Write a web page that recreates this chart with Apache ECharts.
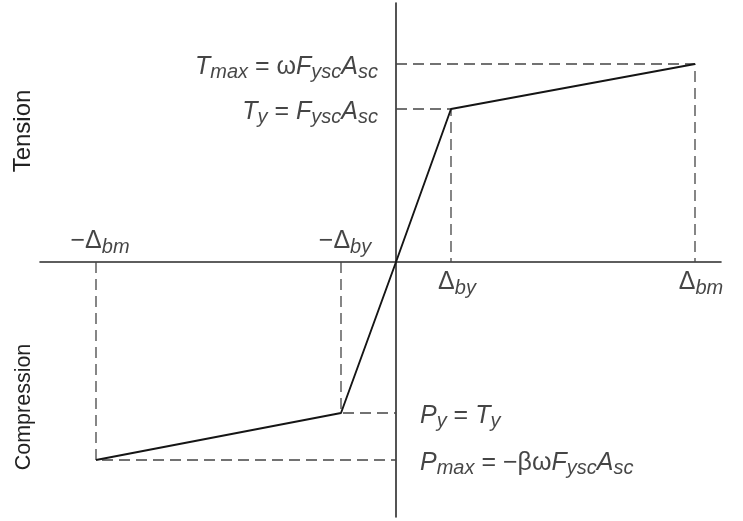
<!DOCTYPE html>
<html>
<head>
<meta charset="utf-8">
<script src="https://cdn.jsdelivr.net/npm/echarts@6/dist/echarts.min.js"></script>
<style>
  html, body { margin: 0; padding: 0; background: #fff; }
  #chart { width: 743px; height: 521px; }
</style>
</head>
<body>
<div id="chart"></div>
<script>
// Brace force–deformation backbone: deformation (x) vs axial force (y)
const deformation = [-300, -55, 0, 55, 299];     // −Δbm, −Δby, 0, Δby, Δbm
const axialForce  = [-198, -151, 0, 153, 198];   // Pmax, Py, 0, Ty, Tmax

// Key levels
const Tmax = 198, Ty = 153, Py = -151, Pmax = -198;
const dBm = 299, dBy = 55, dByNeg = -55, dBmNeg = -300;

// Annotation texts (rich-text markup)
const forceLabelsLeft = [
  { y: Tmax, text: '{i|T}{s|max}{n| = ω}{i|F}{s|ysc}{i|A}{s|sc}' },
  { y: Ty,   text: '{i|T}{s|y}{n| = }{i|F}{s|ysc}{i|A}{s|sc}' }
];
const forceLabelsRight = [
  { y: Py,   text: '{i|P}{s|y}{n| = }{i|T}{s|y}' },
  { y: Pmax, text: '{i|P}{s|max}{n| = −βω}{i|F}{s|ysc}{i|A}{s|sc}' }
];
const deformLabelsAbove = [
  { x: dBmNeg, text: '{n|−Δ}{s|bm}' },
  { x: dByNeg, text: '{n|−Δ}{s|by}' }
];
const deformLabelsBelow = [
  { x: dBy, text: '{n|Δ}{s|by}' },
  { x: dBm, text: '{n|Δ}{s|bm}' }
];
const sideLabels = ['Tension', 'Compression'];

const FONT = '"Liberation Sans", Arial, Helvetica, sans-serif';
const INK = '#161616';
const rich = {
  i: { fontFamily: FONT, fontSize: 25, fontStyle: 'italic', color: INK },
  n: { fontFamily: FONT, fontSize: 25, color: INK },
  s: { fontFamily: FONT, fontSize: 20, fontStyle: 'italic', color: INK, padding: [11, 0, 0, 0] }
};

const dashStyle = { color: '#444', width: 1.3, type: [11, 6] };

function dashed(points) {
  return {
    type: 'line', data: points, symbol: 'none', silent: true,
    lineStyle: dashStyle, z: 1
  };
}

function labelSeries(data, position, distance, offset) {
  return {
    type: 'scatter', symbolSize: 0, silent: true,
    data: data.map(d => ({ value: d.value, label: { formatter: d.text } })),
    label: { show: true, position, distance, offset, rich }
  };
}

const chart = echarts.init(document.getElementById('chart'), null, { renderer: 'canvas' });

chart.setOption({
  animation: false,
  backgroundColor: '#ffffff',
  grid: { left: 40, right: 22, top: 3, bottom: 4 },
  xAxis: {
    type: 'value', min: -356, max: 325,
    axisLine: { show: true, onZero: true, lineStyle: { color: '#2a2a2a', width: 1.6 } },
    axisTick: { show: false }, axisLabel: { show: false }, splitLine: { show: false }
  },
  yAxis: {
    type: 'value', min: -255, max: 259,
    axisLine: { show: true, onZero: true, lineStyle: { color: '#2a2a2a', width: 1.6 } },
    axisTick: { show: false }, axisLabel: { show: false }, splitLine: { show: false }
  },
  series: [
    // reference lines from the key points to the axes
    dashed([[0, Tmax], [dBm, Tmax], [dBm, 0]]),
    dashed([[0, Ty], [dBy, Ty], [dBy, 0]]),
    dashed([[dByNeg, 0], [dByNeg, Py], [0, Py]]),
    dashed([[dBmNeg, 0], [dBmNeg, Pmax], [0, Pmax]]),
    // backbone curve
    {
      type: 'line', symbol: 'none', z: 3,
      data: deformation.map((x, k) => [x, axialForce[k]]),
      lineStyle: { color: '#151515', width: 1.9 }
    },
    labelSeries(forceLabelsLeft.map(d => ({ value: [0, d.y], text: d.text })), 'left', 18, [0, 3]),
    labelSeries(forceLabelsRight.map(d => ({ value: [0, d.y], text: d.text })), 'right', 24, [0, 3]),
    labelSeries(deformLabelsAbove.map(d => ({ value: [d.x, 0], text: d.text })), 'top', 5, [4, 0]),
    labelSeries(deformLabelsBelow.map(d => ({ value: [d.x, 0], text: d.text })), 'bottom', 5, [6, 0])
  ],
  graphic: [
    {
      type: 'text', x: 23, y: 131, rotation: Math.PI / 2,
      style: { text: sideLabels[0], font: '24px ' + FONT, fill: '#222', align: 'center', verticalAlign: 'middle' }
    },
    {
      type: 'text', x: 24, y: 407, rotation: Math.PI / 2,
      style: { text: sideLabels[1], font: '21.5px ' + FONT, fill: '#222', align: 'center', verticalAlign: 'middle' }
    }
  ]
});
</script>
</body>
</html>
